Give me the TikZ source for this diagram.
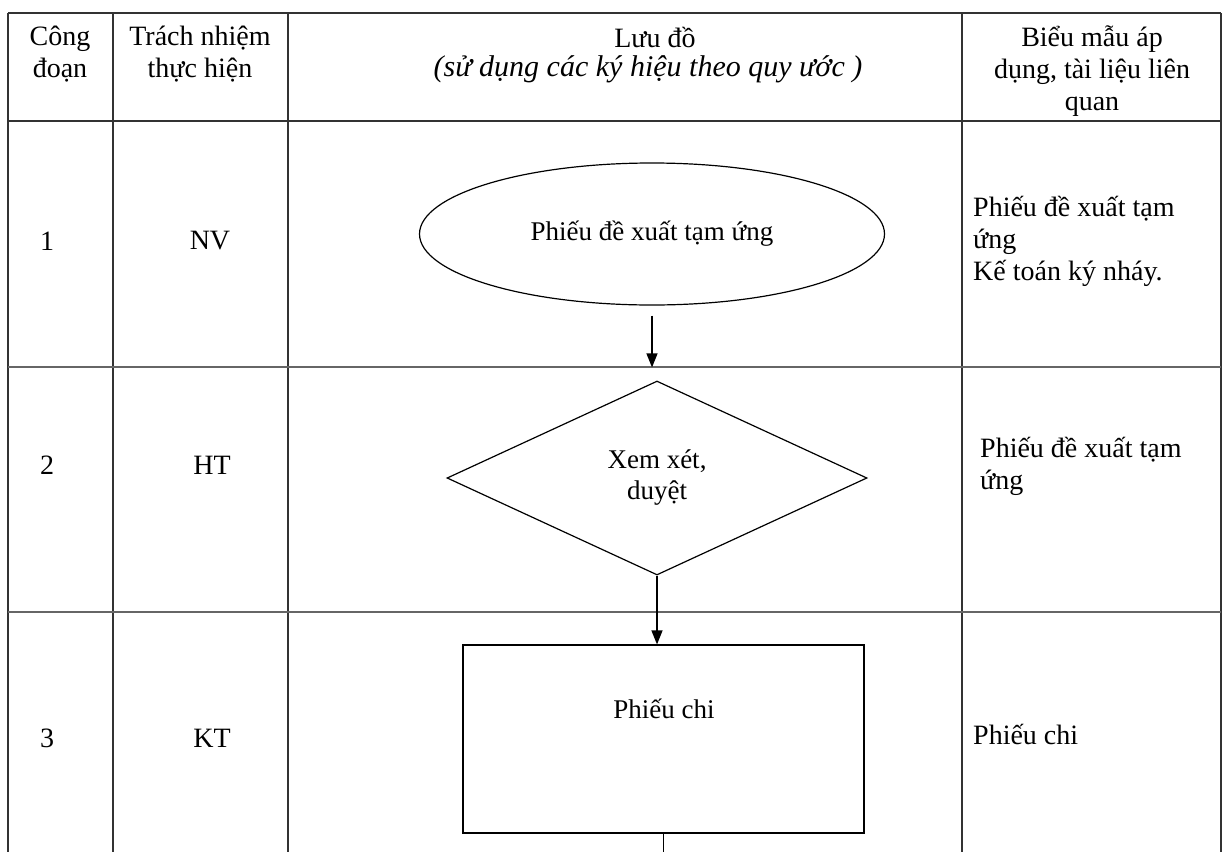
\documentclass[tikz,border=0pt]{standalone}
\usepackage{fontspec}
\setmainfont{Liberation Serif}
\usetikzlibrary{shapes.geometric,arrows.meta}
\begin{document}
\begin{tikzpicture}[x=1pt,y=-1pt,
  every node/.style={font=\fontsize{28}{32}\selectfont, inner sep=0pt},
  grid/.style={draw=black!80, line width=1.3pt},
  rowline/.style={draw=black!60, line width=1.1pt},
  shapeline/.style={draw=black, line width=1.2pt},
  flowtext/.style={font=\fontsize{27}{31}\selectfont},
  flow/.style={draw=black, line width=1.3pt, -{Triangle[length=14pt,width=11pt]}},
  cell/.style={align=center},
  note/.style={align=left, anchor=north west}]
\useasboundingbox (0,0) rectangle (1224,852);
\fill[white] (0,0) rectangle (1224,852);
% table frame
\draw[grid, line width=2pt] (8,13) -- (8,852);
\draw[grid] (8,13) -- (1221,13);
\draw[grid] (1221,13) -- (1221,852);
\draw[grid] (113,13) -- (113,852);
\draw[grid] (288,13) -- (288,852);
\draw[grid] (962,13) -- (962,852);
\draw[grid, line width=1.8pt] (8,121) -- (1221,121);
\draw[rowline] (8,367) -- (1221,367);
\draw[rowline] (8,612) -- (1221,612);
% header
\node[cell] (h1) at (60,54) {Công\\đoạn};
\node[cell] (h2) at (200,54) {Trách nhiệm\\thực hiện};
\node (h3a) at (655,37) {Lưu đồ};
\node (h3b) at (648,69) {\fontsize{30}{32}\selectfont\itshape (sử dụng các ký hiệu theo quy ước )};
\node[cell] (h4) at (1092,71) {Biểu mẫu áp\\dụng, tài liệu liên\\quan};
% row labels
\node (n1) at (47,241) {1};
\node (r1) at (210,241) {NV};
\node (n2) at (47,465) {2};
\node (r2) at (212,465) {HT};
\node (n3) at (47,738) {3};
\node (r3) at (212,738) {KT};
% right column
\node[note] (b1) at (973,196) {Phiếu đề xuất tạm\\ứng\\Kế toán ký nháy.};
\node[note] (b2) at (980,437) {Phiếu đề xuất tạm\\ứng};
\node[note] (b3) at (973,724) {Phiếu chi};
% flowchart
\node[ellipse, shapeline, flowtext, minimum width=465pt, minimum height=142pt] (e) at (652,234) {Phiếu đề xuất tạm ứng};
\node[diamond, shapeline, flowtext, minimum width=420pt, minimum height=194pt, align=center, aspect=2.165] (d) at (657,478) {Xem xét,\\duyệt};
\node[rectangle, shapeline, minimum width=401pt, minimum height=188pt] (r) at (663.5,739) {};
\node[flowtext] (rt) at (664,709) {Phiếu chi};
\coordinate (bottom) at (663,852);
\draw[flow, shorten <=10pt, shorten >=13pt] (e.south) -- (e.south |- d.north);
\draw[flow] (d.south) -- (d.south |- r.north);
\draw[shapeline] (r.south) -- (r.south |- bottom);
\end{tikzpicture}
\end{document}
